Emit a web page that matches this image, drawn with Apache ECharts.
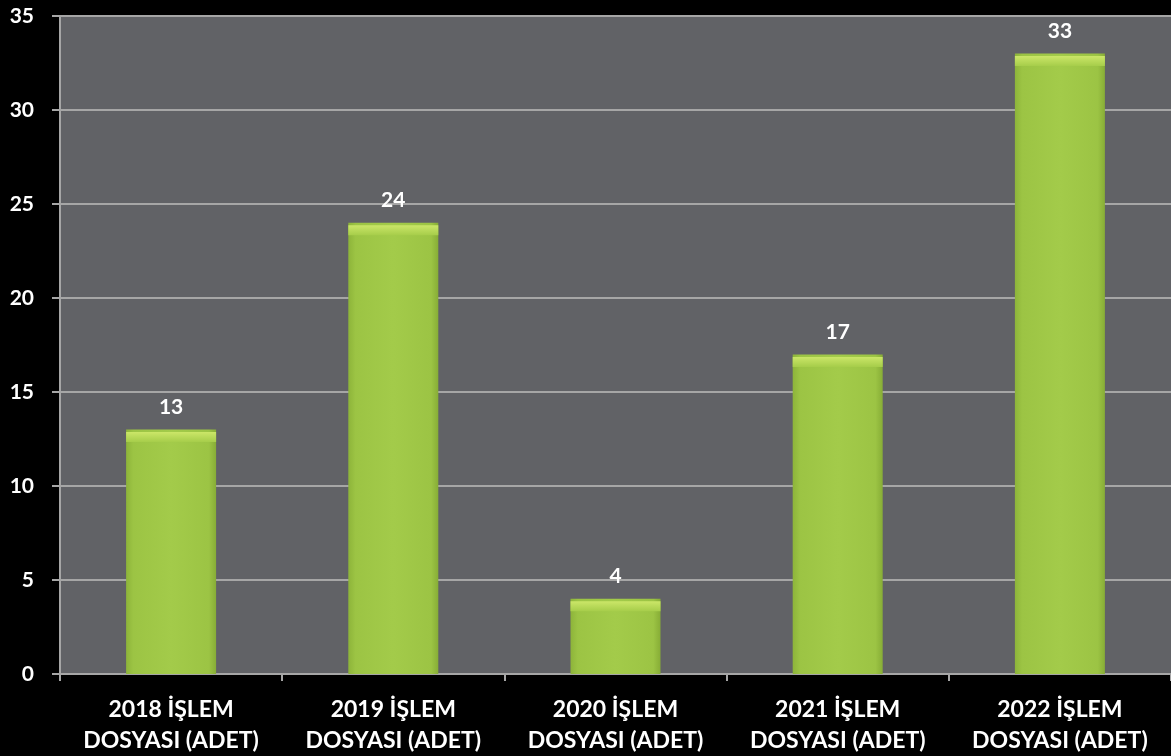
<!DOCTYPE html>
<html>
<head>
<meta charset="utf-8">
<script src="https://cdn.jsdelivr.net/npm/echarts@6/dist/echarts.min.js"></script>
<style>
html,body{margin:0;padding:0;background:#000;}
#chart{width:1171px;height:756px;}
</style>
</head>
<body>
<div id="chart"></div>
<script>
const categories = ["2018 İŞLEM\nDOSYASI (ADET)", "2019 İŞLEM\nDOSYASI (ADET)", "2020 İŞLEM\nDOSYASI (ADET)", "2021 İŞLEM\nDOSYASI (ADET)", "2022 İŞLEM\nDOSYASI (ADET)"];
const values = [13, 24, 4, 17, 33];

const chart = echarts.init(document.getElementById('chart'));
const font = 'Lato, "Open Sans", sans-serif';
chart.setOption({
  backgroundColor: '#000',
  animation: false,
  grid: {left: 60, right: 0, top: 16, bottom: 79, show: true, backgroundColor: '#616266', borderWidth: 0},
  xAxis: {
    type: 'category', data: categories,
    axisLine: {show: true, lineStyle: {color: '#a6a6a6', width: 2}},
    axisTick: {show: true, interval: 0, length: 7, lineStyle: {color: '#a6a6a6', width: 2}},
    axisLabel: {interval: 0, hideOverlap: false, color: '#fff', fontFamily: font, fontWeight: 'bold', fontSize: 23, lineHeight: 31, margin: 20}
  },
  yAxis: {
    type: 'value', min: 0, max: 35, interval: 5,
    axisLine: {show: true, lineStyle: {color: '#a6a6a6', width: 2}},
    axisTick: {show: true, length: 8, lineStyle: {color: '#a6a6a6', width: 2}},
    splitLine: {lineStyle: {color: '#a6a6a6', width: 2}},
    axisLabel: {color: '#fff', fontFamily: font, fontWeight: 'bold', fontSize: 21, margin: 26}
  },
  series: [{
    type: 'bar', data: values, barWidth: 90,
    itemStyle: {
      color: new echarts.graphic.LinearGradient(0, 0, 1, 0, [
        {offset: 0, color: '#8db43a'},
        {offset: 0.08, color: '#9cc444'},
        {offset: 0.5, color: '#a3cb4a'},
        {offset: 0.92, color: '#9cc444'},
        {offset: 1, color: '#87ad36'}
      ])
    },
    label: {show: true, position: 'top', distance: 12, color: '#fff', fontFamily: font, fontWeight: 'bold', fontSize: 21}
  }, {
    type: 'pictorialBar', data: values, symbol: 'rect', symbolSize: [90, 10],
    symbolPosition: 'end', symbolOffset: [0, '25%'], z: 3,
    itemStyle: {color: new echarts.graphic.LinearGradient(0, 0, 0, 1, [
      {offset: 0, color: '#cbe668'}, {offset: 1, color: '#a6cd4a'}])}
  }]
});
</script>
</body>
</html>
